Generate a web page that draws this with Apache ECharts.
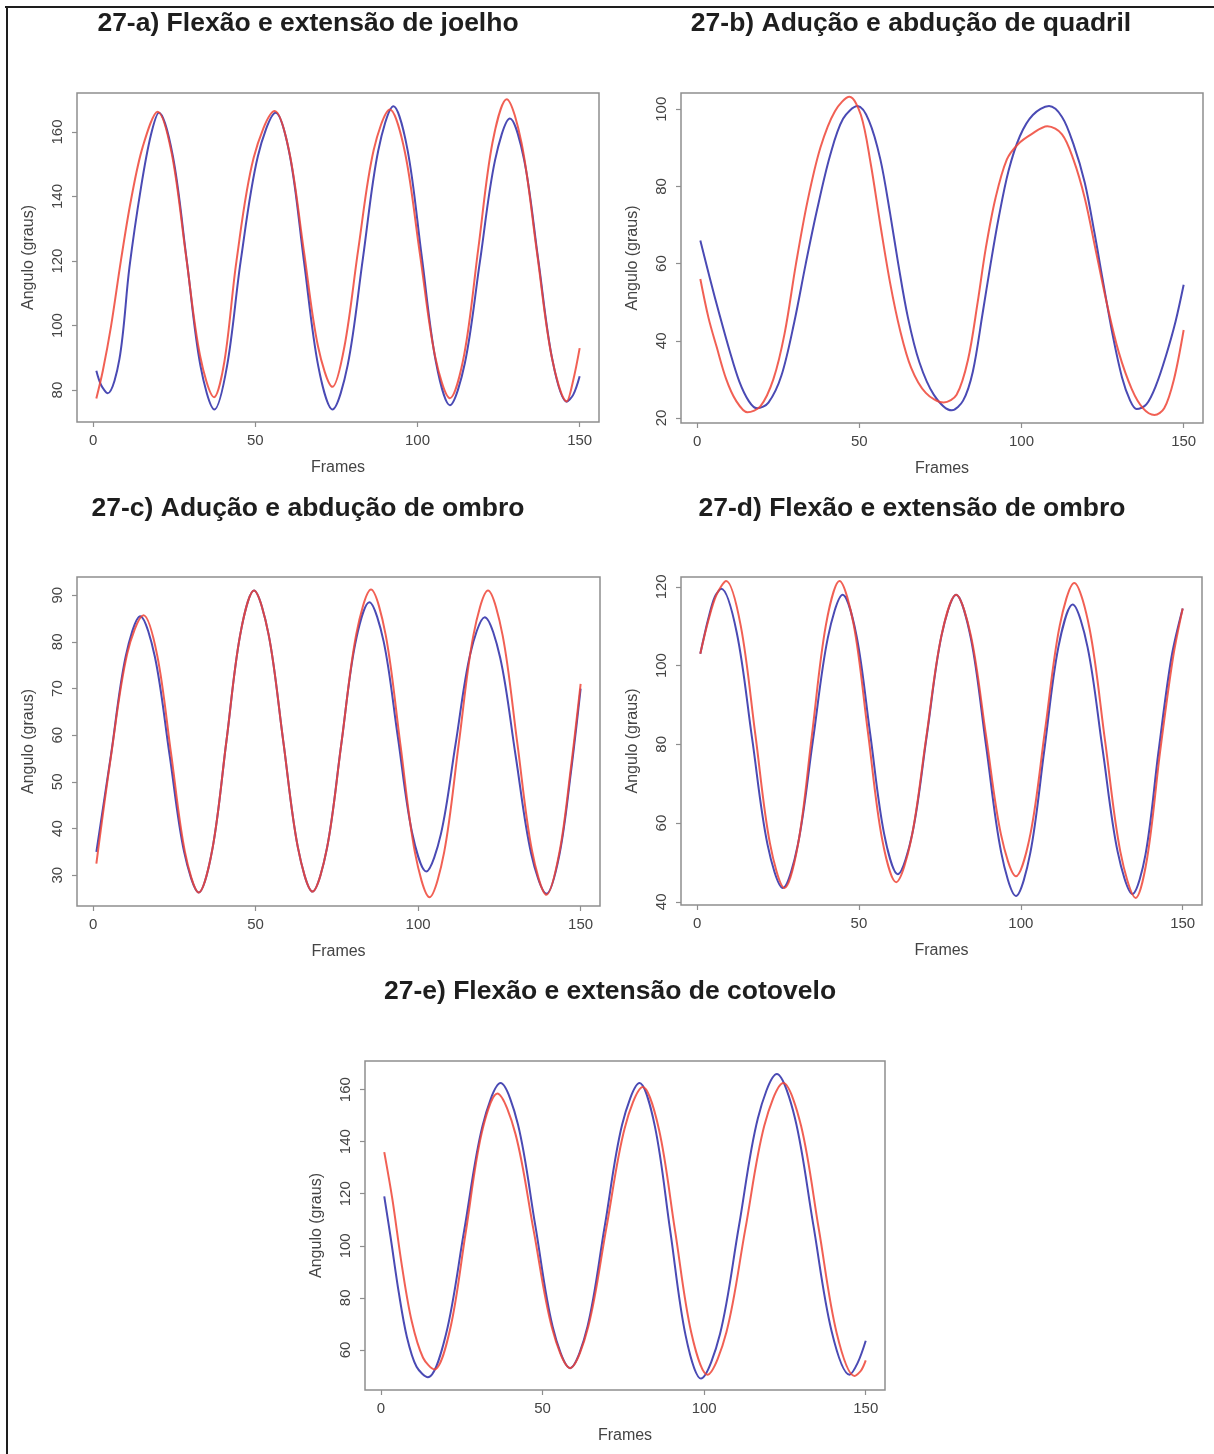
<!DOCTYPE html>
<html>
<head>
<meta charset="utf-8">
<script src="https://cdn.jsdelivr.net/npm/echarts@6/dist/echarts.min.js"></script>
<style>
  html, body { margin: 0; padding: 0; background: #fff; }
  #chart { width: 1214px; height: 1454px; }
</style>
</head>
<body>
<div id="chart"></div>
<script>
// textos
var titulos = [
  '27-a) Flexão e extensão de joelho',
  '27-b) Adução e abdução de quadril',
  '27-c) Adução e abdução de ombro',
  '27-d) Flexão e extensão de ombro',
  '27-e) Flexão e extensão de cotovelo'
];
var nomeX = 'Frames';
var nomeY = 'Angulo (graus)';

// marcas dos eixos
var ticksX = [0, 50, 100, 150];
var ticksJoelho = [80, 100, 120, 140, 160];
var ticksQuadril = [20, 40, 60, 80, 100];
var ticksOmbroAbd = [30, 40, 50, 60, 70, 80, 90];
var ticksOmbroFlex = [40, 60, 80, 100, 120];
var ticksCotovelo = [60, 80, 100, 120, 140, 160];

// 27-a joelho [frame, angulo]
var joelhoAzul = [[1,86],[2.5,81.5],[4.5,79],[8.1,89.5],[11.2,118],[14.8,143],[17.8,159],[20.3,166],
  [24.6,152.5],[28.9,120],[33.1,87.5],[37.4,74],[41.3,87.5],[45.5,120],[50.8,152.5],[56.3,166],
  [60.7,152.5],[65,120],[69.4,87.5],[73.8,74],[78.5,87.8],[83.2,121],[87.9,154.2],[92.6,168],
  [96.95,154.4],[101.3,121.6],[105.65,88.9],[110,75.3],[114.6,88.3],[119.25,119.8],[123.9,151.2],[128.5,164.2],
  [132.9,151.3],[137.25,120.3],[141.6,89.3],[146,76.4],[148,78.5],[150,84.3]];
var joelhoVermelho = [[1,77.4],[3,86],[5.5,99.6],[8.6,120.3],[11.7,139],[15.3,155.4],[19.9,166.3],
  [24.25,153.3],[28.6,122],[32.95,90.8],[37.3,77.8],[40.5,89],[44.2,120],[49.5,152],[56,166.5],
  [60.45,154],[64.9,123.7],[69.35,93.5],[73.8,81],[77.5,93.6],[81.8,124],[86.5,154.4],[91.5,167],
  [96.1,153.9],[100.75,122.25],[105.4,90.6],[110,77.5],[114.4,91],[118.75,123.85],[123.1,156.6],[127.5,170.2],
  [132.1,156.5],[136.75,123.35],[141.4,90.2],[146,76.5],[148,83],[150,93]];

// 27-b quadril
var quadrilAzul = [[1,66],[4,56],[7,46.5],[10,37.5],[13,29.5],[16,24.3],[18.5,22.5],[22,24],[26,31],[30,45],
  [33.5,60],[37,74],[41,88],[45,97.5],[49.5,100.8],[53,97],[56.5,87],[59.5,73],[62,60],[65,46],[68.5,34.5],
  [73,26],[78.5,22],[82,24.5],[85,32],[88,47],[90.5,60],[93,72],[96,84],[99.5,93],[103.5,98.5],[108.5,100.8],
  [112.5,98],[116,91],[119.5,81],[122.5,68],[125,56],[128,42],[131,30.5],[133.5,24.5],[135.5,22.3],
  [138.5,23.5],[141.5,28.5],[144.5,36],[147.5,45],[150,54.5]];
var quadrilVermelho = [[1,56],[3.5,46],[6,38.5],[9,30],[12,24.5],[15.5,21.5],[19.5,23],[23.5,30],[27,42],
  [30.5,60],[34,76],[38,90],[42.5,99.5],[47,103.2],[50.5,98.5],[53.5,86],[56.5,70],[59.5,55],[62.5,43],
  [66,33],[70.5,26.5],[76,24],[80,26],[83.5,35],[86.5,50],[89,64],[92,77],[95.5,87],[99,91],[103,93.5],
  [108,95.6],[112.5,93.5],[116,87],[119.5,77],[123,63],[126.5,49],[130,37],[134,27.5],[137.5,22.5],
  [141,20.8],[144,22.5],[147,30],[150,42.8]];

// 27-c ombro (adução/abdução)
var ombroAbdAzul = [[1,35],[5.5,55.8],[10,76.8],[14.5,85.5],[19,76.8],[23.5,55.9],[28,35],[32.5,26.3],
  [36.75,35.8],[41,58.65],[45.25,81.5],[49.5,91],[54,81.55],[58.5,58.75],[63,35.95],[67.5,26.5],
  [71.9,35.6],[76.25,57.5],[80.6,79.4],[85,88.5],[89.4,80.05],[93.75,59.65],[98.1,39.25],[102.5,30.8],
  [107,38.8],[111.5,58],[116,77.3],[120.5,85.3],[125.25,76.6],[130,55.6],[134.75,34.7],[139.5,26],
  [143.5,34.5],[147,52],[150,70]];
var ombroAbdVermelho = [[1,32.5],[5.5,55.5],[10.5,77.5],[15.5,85.7],[19.75,77],[24,56],[28.25,35],[32.5,26.3],
  [36.75,35.8],[41,58.65],[45.25,81.5],[49.5,91],[54,81.55],[58.5,58.75],[63,35.95],[67.5,26.5],
  [72,35.95],[76.5,58.85],[81,81.75],[85.5,91.2],[90,81.55],[94.5,58.25],[99,34.95],[103.5,25.3],
  [108,34.9],[112.5,58.15],[117,81.4],[121.5,91],[126,81.4],[130.5,58.4],[135,35.4],[139.5,25.8],
  [143.5,35],[147,53],[150,71]];

// 27-d ombro (flexão/extensão)
var ombroFlexAzul = [[1,103],[3.5,112],[5.5,117.5],[7.5,119.5],[12.25,108.4],[17,81.5],[21.75,54.6],[26.5,43.5],
  [31.1,54.4],[35.75,80.75],[40.4,107.1],[45,118],[49.25,107.6],[53.5,82.5],[57.75,57.4],[62,47],
  [66.5,57.4],[71,82.5],[75.5,107.6],[80,118],[84.6,106.8],[89.25,79.75],[93.9,52.7],[98.5,41.5],
  [102.9,52.3],[107.25,78.5],[111.6,104.7],[116,115.5],[120.6,104.75],[125.25,78.75],[129.9,52.75],[134.5,42],
  [138.5,52],[142.5,78],[146.5,102],[150,114.5]];
var ombroFlexVermelho = [[1,103],[3.5,111.5],[6,118],[9,121.5],[13.5,110.1],[18,82.5],[22.5,54.9],[27,43.5],
  [31.25,54.9],[35.5,82.5],[39.75,110.1],[44,121.5],[48.4,110.3],[52.75,83.25],[57.1,56.2],[61.5,45],
  [66.1,55.7],[70.75,81.5],[75.4,107.3],[80,118],[84.6,107.5],[89.25,82.25],[93.9,57],[98.5,46.5],
  [103,57.4],[107.5,83.75],[112,110.1],[116.5,121],[121.25,109.3],[126,81],[130.75,52.7],[135.5,41],
  [139,51],[143,78],[147,102],[150,114.5]];

// 27-e cotovelo
var cotoveloAzul = [[1,119],[3,103],[5.5,82],[8,65],[11,53.5],[14.5,49.5],[20.1,66],[25.75,106],[31.4,146],[37,162.5],
  [42.4,146.5],[47.75,107.75],[53.1,69],[58.5,53],[63.9,69],[69.25,107.75],[74.6,146.5],[80,162.5],
  [84.75,145.9],[89.5,105.75],[94.25,65.6],[99,49],[104.9,66.1],[110.75,107.5],[116.6,148.9],[122.5,166],
  [128.1,149],[133.75,108.25],[139.4,67.4],[145,50.5],[147.5,55],[150,63.5]];
var cotoveloVermelho = [[1,136],[3.5,118],[6.5,92],[9.5,71],[13,57],[16.5,52.5],[21.4,68],[26.25,105.5],[31.1,143],[36,158.5],
  [41.6,143],[47.25,105.75],[52.9,68.5],[58.5,53],[64.1,68.8],[69.75,107],[75.4,145.2],[81,161],
  [86,144.8],[91,105.75],[96,66.7],[101,50.5],[106.9,66.9],[112.75,106.5],[118.6,146.1],[124.5,162.5],
  [130,146],[135.5,106.25],[141,66.5],[146.5,50],[148.5,52],[150,56]];

var paineis = [
  { titulo: titulos[0], tx: 308, ty: 24, grade: { left: 77, top: 93, width: 522, height: 329 }, yMin: 70.1, yMax: 172.1, ticksY: ticksJoelho, azul: joelhoAzul, vermelho: joelhoVermelho },
  { titulo: titulos[1], tx: 911, ty: 24, grade: { left: 681, top: 93, width: 522, height: 330 }, yMin: 18.7, yMax: 104.2, ticksY: ticksQuadril, azul: quadrilAzul, vermelho: quadrilVermelho },
  { titulo: titulos[2], tx: 308, ty: 509, grade: { left: 77, top: 577, width: 523, height: 329 }, yMin: 23.4, yMax: 93.9, ticksY: ticksOmbroAbd, azul: ombroAbdAzul, vermelho: ombroAbdVermelho },
  { titulo: titulos[3], tx: 912, ty: 509, grade: { left: 681, top: 577, width: 521, height: 328 }, yMin: 39.2, yMax: 122.5, ticksY: ticksOmbroFlex, azul: ombroFlexAzul, vermelho: ombroFlexVermelho },
  { titulo: titulos[4], tx: 610, ty: 992, grade: { left: 365, top: 1061, width: 520, height: 329 }, yMin: 44.6, yMax: 171, ticksY: ticksCotovelo, azul: cotoveloAzul, vermelho: cotoveloVermelho }
];

var cinza = '#8e8e8e';
var corTexto = '#444';

var chart = echarts.init(document.getElementById('chart'), null, { renderer: 'canvas' });

var grids = [], xAxes = [], yAxes = [], series = [], graficos = [];

paineis.forEach(function (p, i) {
  grids.push({
    left: p.grade.left, top: p.grade.top, width: p.grade.width, height: p.grade.height,
    show: true, borderColor: cinza, borderWidth: 1.5, backgroundColor: '#fff'
  });
  xAxes.push({
    gridIndex: i, type: 'value', min: -4.96, max: 155.96,
    name: nomeX, nameLocation: 'middle', nameGap: 38,
    nameTextStyle: { fontFamily: 'Liberation Sans', fontSize: 16, color: corTexto },
    axisLine: { show: false, onZero: false },
    splitLine: { show: false },
    axisTick: { show: true, length: 5, customValues: ticksX, lineStyle: { color: cinza, width: 1.2 } },
    axisLabel: { customValues: ticksX, margin: 11, fontFamily: 'Liberation Sans', fontSize: 15, color: corTexto }
  });
  yAxes.push({
    gridIndex: i, type: 'value', min: p.yMin, max: p.yMax,
    name: nomeY, nameLocation: 'middle', nameGap: 40,
    nameTextStyle: { fontFamily: 'Liberation Sans', fontSize: 16, color: corTexto },
    axisLine: { show: false, onZero: false },
    splitLine: { show: false },
    axisTick: { show: true, length: 5, customValues: p.ticksY, lineStyle: { color: cinza, width: 1.2 } },
    axisLabel: { customValues: p.ticksY, rotate: 90, margin: 12, fontFamily: 'Liberation Sans', fontSize: 15, color: corTexto }
  });
  series.push({
    type: 'line', xAxisIndex: i, yAxisIndex: i, data: p.azul,
    smooth: 0.33, showSymbol: false, symbol: 'none',
    lineStyle: { color: '#4a4ab4', width: 2 }
  });
  series.push({
    type: 'line', xAxisIndex: i, yAxisIndex: i, data: p.vermelho,
    smooth: 0.33, showSymbol: false, symbol: 'none',
    lineStyle: { color: '#ee4436', width: 2, opacity: 0.85 }
  });
  graficos.push({
    type: 'text', x: p.tx, y: p.ty,
    style: { text: p.titulo, align: 'center', verticalAlign: 'middle',
      font: 'bold 26.5px "Liberation Sans", Arial, sans-serif', fill: '#1e1e1e' }
  });
});

// moldura (topo e lado esquerdo)
graficos.push({ type: 'line', shape: { x1: 5, y1: 7, x2: 1214, y2: 7 }, style: { stroke: '#1e1e1e', lineWidth: 2 } });
graficos.push({ type: 'line', shape: { x1: 7, y1: 6, x2: 7, y2: 1454 }, style: { stroke: '#1e1e1e', lineWidth: 2 } });

chart.setOption({
  backgroundColor: '#fff',
  animation: false,
  grid: grids,
  xAxis: xAxes,
  yAxis: yAxes,
  series: series,
  graphic: graficos
});
</script>
</body>
</html>
